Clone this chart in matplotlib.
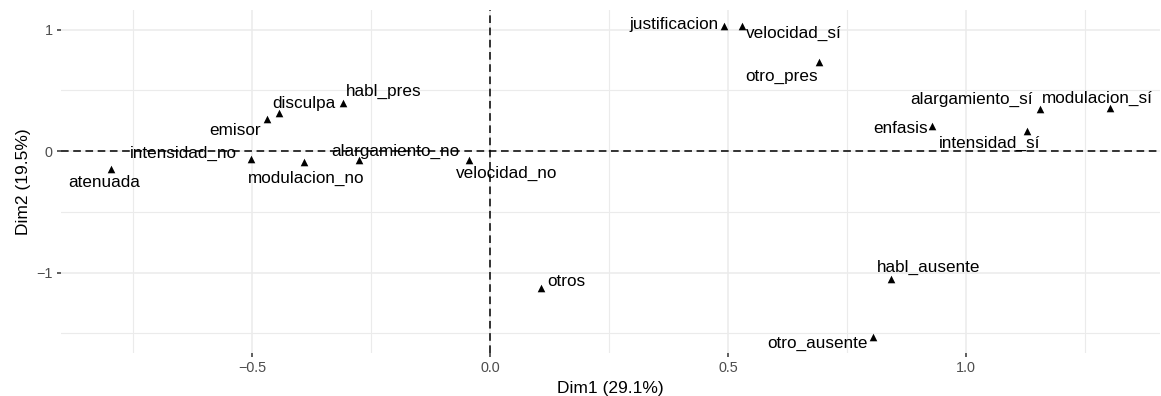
import matplotlib
matplotlib.use('Agg')
import matplotlib.pyplot as plt

# MCA category coordinates (Dim1, Dim2)
labels = ['atenuada', 'intensidad_no', 'emisor', 'disculpa', 'habl_pres',
          'modulacion_no', 'alargamiento_no', 'velocidad_no', 'justificacion',
          'velocidad_sí', 'otro_pres', 'alargamiento_sí', 'modulacion_sí',
          'enfasis', 'intensidad_sí', 'otros', 'habl_ausente', 'otro_ausente']
dim1 = [-0.796, -0.502, -0.468, -0.443, -0.309,
        -0.391, -0.275, -0.044, 0.492,
        0.529, 0.691, 1.155, 1.302,
        0.929, 1.128, 0.107, 0.842, 0.805]
dim2 = [-0.148, -0.066, 0.262, 0.310, 0.393,
        -0.090, -0.074, -0.074, 1.033,
        1.033, 0.730, 0.344, 0.352,
        0.205, 0.164, -1.123, -1.049, -1.533]

xlab = 'Dim1 (29.1%)'
ylab = 'Dim2 (19.5%)'

# label offsets in pixels (repel-like placement)
label_offsets = [(-7, 13), (-68, -6), (-32, 11), (25, -10), (41, -12),
                 (2, 16), (36, -9), (38, 13), (-50, -1),
                 (52, 8), (-38, 14), (-69, -10), (-13, -10),
                 (-32, 2), (-38, 12), (25, -6), (38, -11), (-56, 6)]

plt.rcParams['font.family'] = ['Liberation Sans', 'DejaVu Sans']

fig = plt.figure(figsize=(11.61, 3.96), dpi=100)
ax = fig.add_axes([61 / 1161, 43 / 396, 1099 / 1161, 343 / 396])

ax.set_xticks([-0.5, 0.0, 0.5, 1.0])
ax.set_xticklabels(['−0.5', '0.0', '0.5', '1.0'])
ax.set_xticks([-0.75, -0.25, 0.25, 0.75, 1.25], minor=True)
ax.set_yticks([-1, 0, 1])
ax.set_yticklabels(['−1', '0', '1'])
ax.set_yticks([-1.5, -0.5, 0.5], minor=True)

ax.grid(which='major', color='#EBEBEB', linewidth=1.1, zorder=0)
ax.grid(which='minor', color='#EBEBEB', linewidth=0.8, zorder=0)
ax.set_axisbelow(True)
for s in ax.spines.values():
    s.set_visible(False)

ax.tick_params(axis='both', which='major', length=3, width=1.1, color='#333333',
               labelsize=10.4, labelcolor='#4D4D4D', pad=3)
ax.tick_params(axis='both', which='minor', length=0)

ax.axhline(0, color='black', linestyle=(0, (5, 3)), linewidth=1.1, zorder=2)
ax.axvline(0, color='black', linestyle=(0, (5, 3)), linewidth=1.1, zorder=2)

ax.scatter(dim1, dim2, marker='^', s=30, color='black', linewidths=0, zorder=3)
ax.margins(x=0.05, y=0.05)

for lab, x, y, (dx, dy) in zip(labels, dim1, dim2, label_offsets):
    ax.annotate(lab, (x, y), xytext=(dx, -dy), textcoords='offset pixels',
                ha='center', va='center', fontsize=12.3, color='black', zorder=4)

ax.set_xlabel(xlab, fontsize=12.5, labelpad=4)
ax.set_ylabel(ylab, fontsize=12.5, labelpad=4)

fig.savefig('out.png', dpi=100)
